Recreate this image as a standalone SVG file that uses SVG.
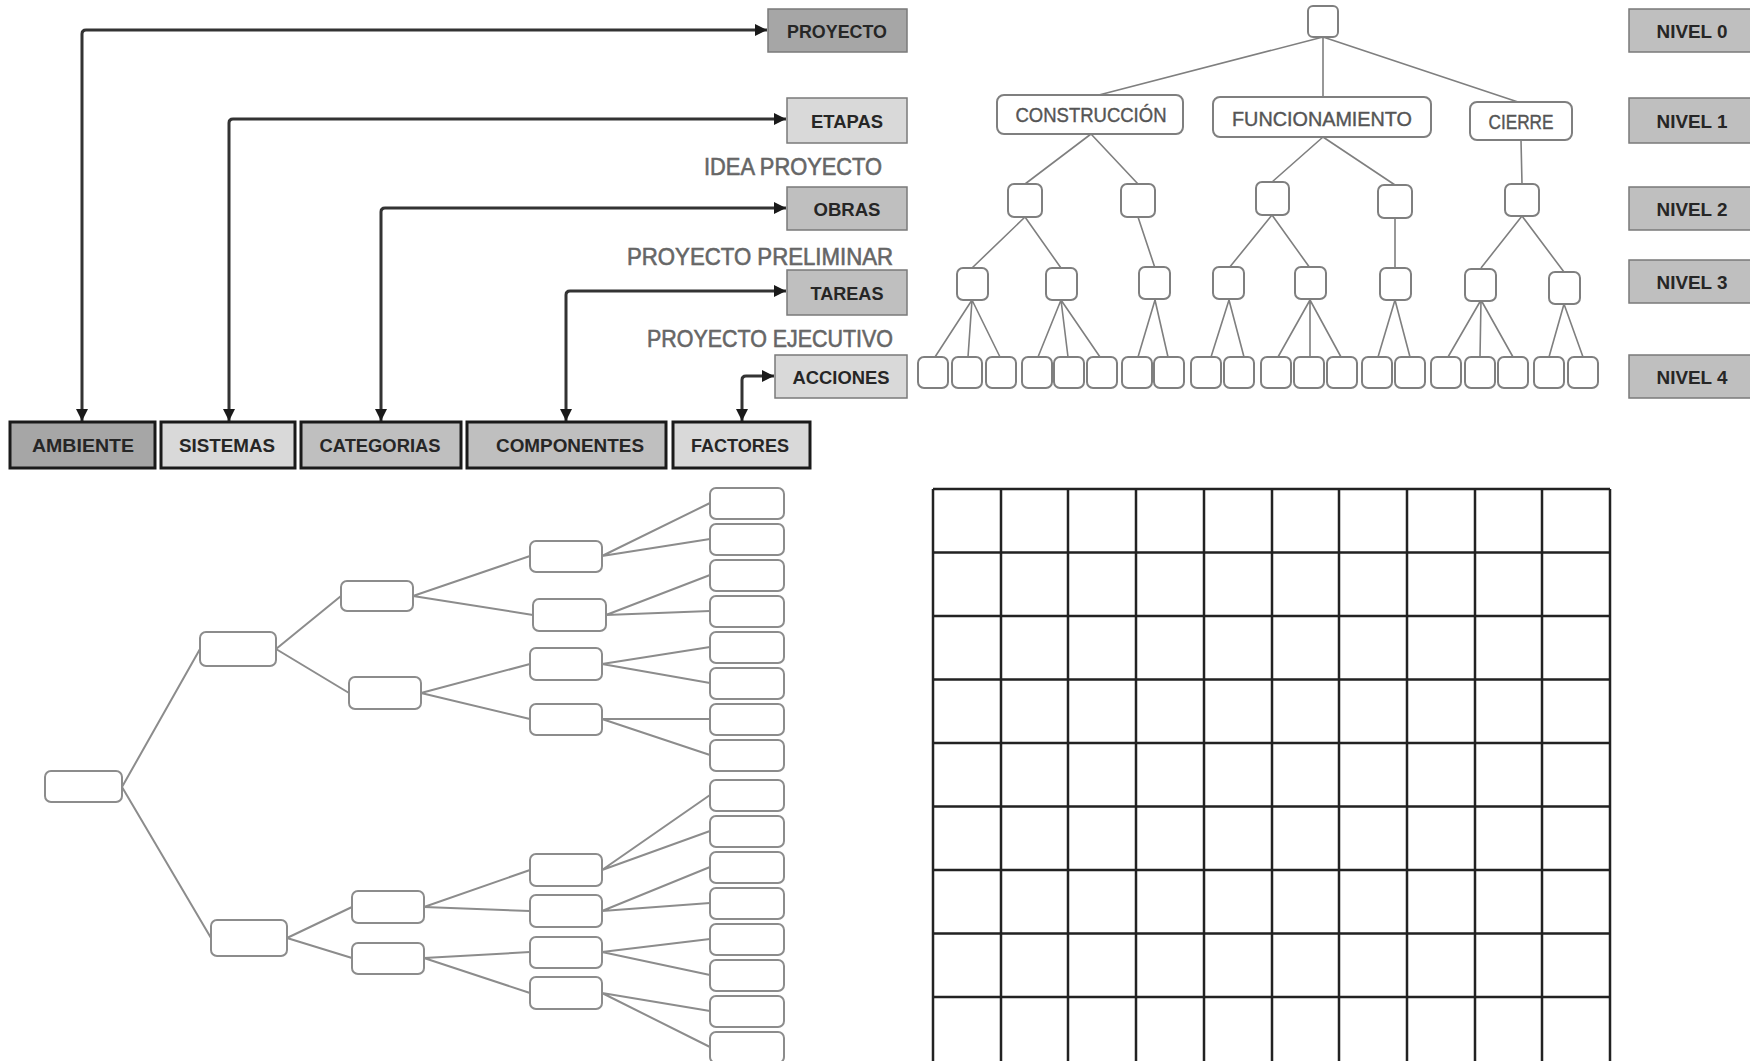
<svg xmlns="http://www.w3.org/2000/svg" width="1750" height="1061" viewBox="0 0 1750 1061">
<style>
.lbl{font-family:"Liberation Sans",Arial,sans-serif;font-weight:bold;font-size:19px;fill:#262626;text-anchor:middle}
.phase{font-family:"Liberation Sans",Arial,sans-serif;font-size:24px;fill:#666;stroke:#666;stroke-width:0.6;text-anchor:end}
.nt{font-family:"Liberation Sans",Arial,sans-serif;font-size:20px;fill:#555;stroke:#555;stroke-width:0.4;text-anchor:middle}
.tbox{stroke:#7a7a7a;stroke-width:1.5}
.bbox{stroke:#1a1a1a;stroke-width:3}
.dark{fill:#a6a6a6}.mid{fill:#bfbfbf}.light{fill:#d9d9d9}
.conn{fill:none;stroke:#333;stroke-width:3;marker-start:url(#arr);marker-end:url(#arr)}
.tn{fill:#fff;stroke:#7f7f7f;stroke-width:2}
.te{stroke:#7f7f7f;stroke-width:1.6;fill:none}
.ln{fill:#fff;stroke:#8c8c8c;stroke-width:2}
.le{stroke:#8c8c8c;stroke-width:2;fill:none}
.grid{stroke:#222;stroke-width:2.5;fill:none}
</style>
<defs>
<marker id="arr" viewBox="0 0 12 12" refX="12" refY="6" markerWidth="12" markerHeight="12" markerUnits="userSpaceOnUse" orient="auto-start-reverse">
<path d="M0,0 L12,6 L0,12 Z" fill="#1a1a1a"/>
</marker>
</defs>
<rect width="1750" height="1061" fill="#fff"/>

<!-- connectors left -->
<g id="connectors">
<path class="conn" d="M82,421 V34 Q82,30 86,30 H767"/>
<path class="conn" d="M229,421 V123 Q229,119 233,119 H786"/>
<path class="conn" d="M381,421 V212 Q381,208 385,208 H786"/>
<path class="conn" d="M566,421 V295 Q566,291 570,291 H786"/>
<path class="conn" d="M742,421 V380 Q742,376 746,376 H774"/>
</g>

<!-- left column -->
<g id="proyecto"><rect class="tbox dark" x="768" y="9" width="139" height="43"/><text class="lbl" x="837" y="37.5" textLength="100" lengthAdjust="spacingAndGlyphs">PROYECTO</text></g>
<g id="etapas"><rect class="tbox light" x="787" y="98" width="120" height="45"/><text class="lbl" x="847" y="127.5" textLength="72" lengthAdjust="spacingAndGlyphs">ETAPAS</text></g>
<g id="obras"><rect class="tbox mid" x="787" y="187" width="120" height="43"/><text class="lbl" x="847" y="215.5" textLength="67" lengthAdjust="spacingAndGlyphs">OBRAS</text></g>
<g id="tareas"><rect class="tbox mid" x="787" y="270" width="120" height="45"/><text class="lbl" x="847" y="299.5" textLength="73" lengthAdjust="spacingAndGlyphs">TAREAS</text></g>
<g id="acciones"><rect class="tbox light" x="775" y="355" width="132" height="43"/><text class="lbl" x="841" y="383.5" textLength="97" lengthAdjust="spacingAndGlyphs">ACCIONES</text></g>

<g id="phases">
<text class="phase" x="882" y="175" textLength="178" lengthAdjust="spacingAndGlyphs">IDEA PROYECTO</text>
<text class="phase" x="893" y="265" textLength="266" lengthAdjust="spacingAndGlyphs">PROYECTO PRELIMINAR</text>
<text class="phase" x="893" y="347" textLength="246" lengthAdjust="spacingAndGlyphs">PROYECTO EJECUTIVO</text>
</g>

<!-- bottom row -->
<g id="ambiente"><rect class="bbox dark" x="10" y="422" width="145" height="46"/><text class="lbl" x="83" y="452" textLength="102" lengthAdjust="spacingAndGlyphs">AMBIENTE</text></g>
<g id="sistemas"><rect class="bbox light" x="161" y="422" width="134" height="46"/><text class="lbl" x="227" y="452" textLength="96" lengthAdjust="spacingAndGlyphs">SISTEMAS</text></g>
<g id="categorias"><rect class="bbox mid" x="301" y="422" width="160" height="46"/><text class="lbl" x="380" y="452" textLength="121" lengthAdjust="spacingAndGlyphs">CATEGORIAS</text></g>
<g id="componentes"><rect class="bbox mid" x="467" y="422" width="199" height="46"/><text class="lbl" x="570" y="452" textLength="148" lengthAdjust="spacingAndGlyphs">COMPONENTES</text></g>
<g id="factores"><rect class="bbox light" x="673" y="422" width="137" height="46"/><text class="lbl" x="740" y="452" textLength="98" lengthAdjust="spacingAndGlyphs">FACTORES</text></g>

<!-- NIVEL boxes -->
<g id="nivel0"><rect class="tbox mid" x="1629" y="9" width="130" height="43"/><text class="lbl" x="1692" y="37.5" textLength="71" lengthAdjust="spacingAndGlyphs">NIVEL 0</text></g>
<g id="nivel1"><rect class="tbox mid" x="1629" y="98" width="130" height="45"/><text class="lbl" x="1692" y="127.5" textLength="71" lengthAdjust="spacingAndGlyphs">NIVEL 1</text></g>
<g id="nivel2"><rect class="tbox mid" x="1629" y="187" width="130" height="43"/><text class="lbl" x="1692" y="215.5" textLength="71" lengthAdjust="spacingAndGlyphs">NIVEL 2</text></g>
<g id="nivel3"><rect class="tbox mid" x="1629" y="260" width="130" height="43"/><text class="lbl" x="1692" y="288.5" textLength="71" lengthAdjust="spacingAndGlyphs">NIVEL 3</text></g>
<g id="nivel4"><rect class="tbox mid" x="1629" y="355" width="130" height="43"/><text class="lbl" x="1692" y="383.5" textLength="71" lengthAdjust="spacingAndGlyphs">NIVEL 4</text></g>

<!-- upper-right tree edges -->
<g id="tree-top-edges" class="te">
<path d="M1323,37 L1095,96 M1323,37 V97 M1323,37 L1518,102"/>
<path d="M1091,134 L1025,184 M1091,134 L1138,184 M1323,137 L1272,182 M1323,137 L1395,185 M1521,140 L1522,184"/>
<path d="M1025,217 L972,268 M1025,217 L1061,268 M1138,217 L1155,268 M1272,215 L1229,268 M1272,215 L1310,268 M1395,218 L1395,268 M1522,216 L1481,268 M1522,216 L1564,272"/>
<path d="M972,300 L935,357 M972,300 L968,357 M972,300 L1000,357"/>
<path d="M1061,300 L1038,357 M1061,300 L1068,357 M1061,300 L1100,357"/>
<path d="M1155,300 L1138,357 M1155,300 L1168,357"/>
<path d="M1229,300 L1211,357 M1229,300 L1244,357"/>
<path d="M1310,300 L1278,357 M1310,300 L1310,357 M1310,300 L1341,357"/>
<path d="M1395,300 L1378,357 M1395,300 L1410,357"/>
<path d="M1481,300 L1448,357 M1481,300 L1480,357 M1481,300 L1513,357"/>
<path d="M1564,304 L1549,357 M1564,304 L1583,357"/>
</g>

<!-- upper-right tree nodes -->
<g id="t-root"><rect class="tn" x="1308" y="6" width="30" height="31" rx="5"/></g>
<g id="t-construccion"><rect class="tn" x="997" y="95" width="186" height="39" rx="7"/><text class="nt" x="1091" y="122" textLength="151" lengthAdjust="spacingAndGlyphs">CONSTRUCCIÓN</text></g>
<g id="t-funcionamiento"><rect class="tn" x="1213" y="97" width="218" height="40" rx="7"/><text class="nt" x="1322" y="126" textLength="180" lengthAdjust="spacingAndGlyphs">FUNCIONAMIENTO</text></g>
<g id="t-cierre"><rect class="tn" x="1470" y="102" width="102" height="38" rx="7"/><text class="nt" x="1521" y="129" textLength="65" lengthAdjust="spacingAndGlyphs">CIERRE</text></g>

<g id="t-l2">
<rect class="tn" x="1008" y="184" width="34" height="33" rx="6"/>
<rect class="tn" x="1121" y="184" width="34" height="33" rx="6"/>
<rect class="tn" x="1256" y="182" width="33" height="33" rx="6"/>
<rect class="tn" x="1378" y="185" width="34" height="33" rx="6"/>
<rect class="tn" x="1505" y="184" width="34" height="32" rx="6"/>
</g>
<g id="t-l3">
<rect class="tn" x="957" y="268" width="31" height="32" rx="6"/>
<rect class="tn" x="1046" y="268" width="31" height="32" rx="6"/>
<rect class="tn" x="1139" y="267" width="31" height="32" rx="6"/>
<rect class="tn" x="1213" y="267" width="31" height="32" rx="6"/>
<rect class="tn" x="1295" y="267" width="31" height="32" rx="6"/>
<rect class="tn" x="1380" y="268" width="31" height="32" rx="6"/>
<rect class="tn" x="1465" y="269" width="31" height="32" rx="6"/>
<rect class="tn" x="1549" y="272" width="31" height="32" rx="6"/>
</g>
<g id="t-l4">
<rect class="tn" x="918" y="357" width="30" height="31" rx="6"/>
<rect class="tn" x="952" y="357" width="30" height="31" rx="6"/>
<rect class="tn" x="986" y="357" width="30" height="31" rx="6"/>
<rect class="tn" x="1022" y="357" width="30" height="31" rx="6"/>
<rect class="tn" x="1054" y="357" width="30" height="31" rx="6"/>
<rect class="tn" x="1087" y="357" width="30" height="31" rx="6"/>
<rect class="tn" x="1122" y="357" width="30" height="31" rx="6"/>
<rect class="tn" x="1154" y="357" width="30" height="31" rx="6"/>
<rect class="tn" x="1191" y="357" width="30" height="31" rx="6"/>
<rect class="tn" x="1224" y="357" width="30" height="31" rx="6"/>
<rect class="tn" x="1261" y="357" width="30" height="31" rx="6"/>
<rect class="tn" x="1294" y="357" width="30" height="31" rx="6"/>
<rect class="tn" x="1327" y="357" width="30" height="31" rx="6"/>
<rect class="tn" x="1362" y="357" width="30" height="31" rx="6"/>
<rect class="tn" x="1395" y="357" width="30" height="31" rx="6"/>
<rect class="tn" x="1431" y="357" width="30" height="31" rx="6"/>
<rect class="tn" x="1465" y="357" width="30" height="31" rx="6"/>
<rect class="tn" x="1498" y="357" width="30" height="31" rx="6"/>
<rect class="tn" x="1534" y="357" width="30" height="31" rx="6"/>
<rect class="tn" x="1568" y="357" width="30" height="31" rx="6"/>
</g>

<!-- bottom-left tree edges -->
<g id="tree-left-edges" class="le">
<path d="M122,787 L200,649 M122,787 L211,938"/>
<path d="M276,649 L341,596 M276,649 L349,693 M287,938 L352,907 M287,938 L352,958"/>
<path d="M413,596 L530,556 M413,596 L533,615 M421,693 L530,664 M421,693 L530,719 M424,907 L530,870 M424,907 L530,911 M424,958 L530,952 M424,958 L530,993"/>
<path d="M602,556 L710,503 M602,556 L710,539 M606,615 L710,575 M606,615 L710,611 M602,664 L710,647 M602,664 L710,683 M602,719 L710,719 M602,719 L710,755"/>
<path d="M602,870 L710,795 M602,870 L710,831 M602,911 L710,867 M602,911 L710,903 M602,952 L710,939 M602,952 L710,975 M602,993 L710,1011 M602,993 L710,1047"/>
</g>

<!-- bottom-left tree nodes -->
<g id="l-root"><rect class="ln" x="45" y="771" width="77" height="31" rx="6"/></g>
<g id="l-l1">
<rect class="ln" x="200" y="632" width="76" height="34" rx="6"/>
<rect class="ln" x="211" y="920" width="76" height="36" rx="6"/>
</g>
<g id="l-l2">
<rect class="ln" x="341" y="581" width="72" height="30" rx="6"/>
<rect class="ln" x="349" y="677" width="72" height="32" rx="6"/>
<rect class="ln" x="352" y="891" width="72" height="32" rx="6"/>
<rect class="ln" x="352" y="943" width="72" height="31" rx="6"/>
</g>
<g id="l-l3">
<rect class="ln" x="530" y="541" width="72" height="31" rx="6"/>
<rect class="ln" x="533" y="599" width="73" height="32" rx="6"/>
<rect class="ln" x="530" y="648" width="72" height="32" rx="6"/>
<rect class="ln" x="530" y="704" width="72" height="31" rx="6"/>
<rect class="ln" x="530" y="854" width="72" height="32" rx="6"/>
<rect class="ln" x="530" y="895" width="72" height="32" rx="6"/>
<rect class="ln" x="530" y="937" width="72" height="31" rx="6"/>
<rect class="ln" x="530" y="977" width="72" height="32" rx="6"/>
</g>
<g id="l-l4">
<rect class="ln" x="710" y="488" width="74" height="31" rx="6"/>
<rect class="ln" x="710" y="524" width="74" height="31" rx="6"/>
<rect class="ln" x="710" y="560" width="74" height="31" rx="6"/>
<rect class="ln" x="710" y="596" width="74" height="31" rx="6"/>
<rect class="ln" x="710" y="632" width="74" height="31" rx="6"/>
<rect class="ln" x="710" y="668" width="74" height="31" rx="6"/>
<rect class="ln" x="710" y="704" width="74" height="31" rx="6"/>
<rect class="ln" x="710" y="740" width="74" height="31" rx="6"/>
<rect class="ln" x="710" y="780" width="74" height="31" rx="6"/>
<rect class="ln" x="710" y="816" width="74" height="31" rx="6"/>
<rect class="ln" x="710" y="852" width="74" height="31" rx="6"/>
<rect class="ln" x="710" y="888" width="74" height="31" rx="6"/>
<rect class="ln" x="710" y="924" width="74" height="31" rx="6"/>
<rect class="ln" x="710" y="960" width="74" height="31" rx="6"/>
<rect class="ln" x="710" y="996" width="74" height="31" rx="6"/>
<rect class="ln" x="710" y="1032" width="74" height="31" rx="6"/>
</g>

<!-- grid -->
<g id="grid" class="grid">
<path d="M933,489 V1061 M1001,489 V1061 M1068,489 V1061 M1136,489 V1061 M1204,489 V1061 M1272,489 V1061 M1339,489 V1061 M1407,489 V1061 M1475,489 V1061 M1542,489 V1061 M1610,489 V1061"/>
<path d="M933,489 H1610 M933,552.5 H1610 M933,616 H1610 M933,679.5 H1610 M933,743 H1610 M933,806.5 H1610 M933,870 H1610 M933,933.5 H1610 M933,997 H1610"/>
</g>
</svg>
